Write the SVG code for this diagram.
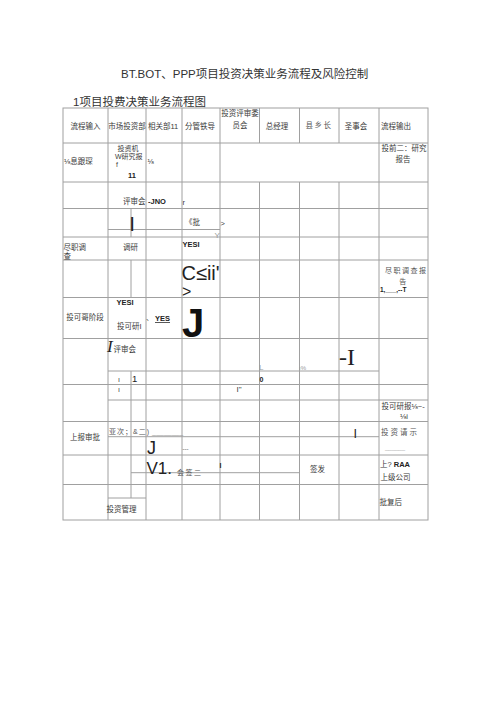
<svg xmlns="http://www.w3.org/2000/svg" width="500" height="707" viewBox="0 0 500 707">
<style>
.g{stroke:#a0a0a0;stroke-width:1;fill:none}
.t{font-family:"Liberation Sans","Noto Sans CJK SC",sans-serif;font-size:7.5px;fill:#3a3a3a}
.b{font-weight:bold;fill:#222}
.m{text-anchor:middle}
.h{letter-spacing:1.5px;fill:#555}
.s{font-family:"Liberation Serif","Noto Sans CJK SC",serif;fill:#222}
.gr{fill:#999}
</style>
<rect width="500" height="707" fill="#fff"/>
<g id="title">
<text x="121" y="78" class="t" style="font-size:11.5px;fill:#333">BT.BOT、PPP项目投资决策业务流程及风险控制</text>
<text x="73" y="106" class="t" style="font-size:11.5px;fill:#333">1项目投费决策业务流程图</text>
</g>
<g id="grid" class="g">
<rect x="63" y="108" width="365" height="412"/>
<path d="M63 143H428M63 182H428M63 208.5H428M63 237H428M63 260H428M63 297.5H428M63 338.5H428M63 384.5H428M63 421.5H428M63 455H428M63 484.5H428"/>
<path d="M108 229.5H220M108 371H379M108 400H428M108 436.7H379M131 472.7H299.5M108 498H146"/>
<path d="M108 108V520M146 108V520M182 108V520M220 108V520M379 108V520"/>
<path d="M259.5 108V143M259.5 182V520M299.5 108V143M299.5 182V520M339 108V143M339 182V520"/>
<path d="M131 208.5V237M131 260V297.5M131 371V498"/>
</g>
<g id="header">
<text x="85.5" y="129" class="t m">流程输入</text>
<text x="127" y="129" class="t m">市场投资部</text>
<text x="148" y="129" class="t">相关部11</text>
<text x="200" y="129" class="t m">分管铁导</text>
<text x="240" y="115.5" class="t m">投资评审委</text>
<text x="240" y="127.5" class="t m">员会</text>
<text x="277" y="129" class="t m">总经理</text>
<text x="319" y="128" class="t m h">县乡长</text>
<text x="356" y="129" class="t m">圣事会</text>
<text x="381" y="129" class="t">流程输出</text>
</g>
<g id="row-info">
<text x="64" y="164" class="t">⅛息跟琛</text>
<text x="117.5" y="151" class="t" style="font-size:7px">投资机</text>
<text x="115" y="159" class="t" style="font-size:7px">W研究报</text>
<text x="116" y="166.5" class="t" style="font-size:7px">f</text>
<text x="128" y="177.5" class="t b">11</text>
<text x="147.5" y="164" class="t">⅛</text>
<text x="381.5" y="150.5" class="t">投前二：研究</text>
<text x="403" y="161.5" class="t m">报告</text>
</g>
<g id="row-review1">
<text x="123" y="204" class="t">评审会</text>
<text x="148" y="204" class="t b">-JNO</text>
<text x="182.5" y="205" class="t">r</text>
<text x="130" y="228" class="t b" style="font-size:15px">|</text>
<text x="185" y="225" class="t">《批</text>
<text x="220.5" y="226" class="t">&gt;</text>
<text x="214.5" y="237.5" class="t gr" style="font-size:8px">Y</text>
</g>
<g id="row-due">
<text x="63.5" y="249.5" class="t">尽职调</text>
<text x="63.5" y="259" class="t">查</text>
<text x="123" y="250" class="t">调研</text>
<text x="182.5" y="247" class="t b">YESI</text>
<text x="181.5" y="279.5" class="t" style="font-size:20px;fill:#222">C≤ii'</text>
<text x="182" y="296.5" class="t" style="font-size:16px;fill:#222">&gt;</text>
<text x="385" y="273" class="t h" style="font-size:7px">尽职调查报</text>
<text x="403.5" y="284" class="t m h" style="font-size:7px">告</text>
<text x="380" y="292" class="t b" style="font-size:6.5px">1,___,--T</text>
</g>
<g id="row-feasibility">
<text x="116.5" y="304.5" class="t b">YESI</text>
<text x="85" y="320" class="t m">投可哥阶段</text>
<text x="117" y="328.5" class="t">投可研I</text>
<text x="146" y="320" class="t">、</text>
<text x="155" y="321" class="t b" style="text-decoration:underline">YES</text>
<text x="182" y="337" class="t b" style="font-size:40px;fill:#111">J</text>
</g>
<g id="row-review2">
<text x="107" y="352" class="s" style="font-size:17px;font-style:italic">I</text>
<text x="113.5" y="351.5" class="t">评审会</text>
<text x="118" y="382" class="t" style="font-size:7px">ı</text>
<text x="132" y="382" class="t" style="font-size:9.5px;fill:#222">1</text>
<text x="259" y="370" class="t gr" style="font-size:8px">L</text>
<text x="259.5" y="382" class="t b" style="font-size:7px">0</text>
<text x="299" y="369.5" class="t gr" style="font-size:6px">ı%</text>
<text x="339" y="365" class="s" style="font-size:24px">-I</text>
<text x="118" y="392" class="t" style="font-size:7px">ı</text>
<text x="236.5" y="392" class="t" style="font-size:8px">I"</text>
<text x="381.5" y="408.5" class="t">投可研报⅛~-</text>
<text x="400" y="418.5" class="t">⅛i</text>
</g>
<g id="row-report">
<text x="85" y="440" class="t m">上报审批</text>
<text x="109" y="433.5" class="t h" style="font-size:7px;letter-spacing:1px">亚次；&amp;二)</text>
<text x="152" y="434" class="t gr" style="font-size:7px">________</text>
<text x="147" y="453.5" class="t" style="font-size:18px;fill:#222">J</text>
<text x="182.5" y="450.5" class="t" style="font-size:6px">---</text>
<text x="354" y="436" class="t b" style="font-size:9px">|</text>
<text x="381" y="435" class="t h" style="letter-spacing:2px">投资请示</text>
<text x="385" y="450" class="t gr" style="font-size:6px">______</text>
</g>
<g id="row-issue">
<text x="146.5" y="474" class="t" style="font-size:17px;fill:#222">V1.</text>
<text x="177" y="475" class="t h" style="font-size:7px">会签二</text>
<text x="219.5" y="468" class="t b" style="font-size:7px">I</text>
<text x="310" y="472" class="t">签发</text>
<text x="380" y="467" class="t">上? <tspan class="b">RAA</tspan></text>
<text x="380.5" y="479.5" class="t">上级公司</text>
</g>
<g id="row-manage">
<text x="106.5" y="512" class="t">投资管理</text>
<text x="379.5" y="505" class="t">批复后</text>
</g>
</svg>
